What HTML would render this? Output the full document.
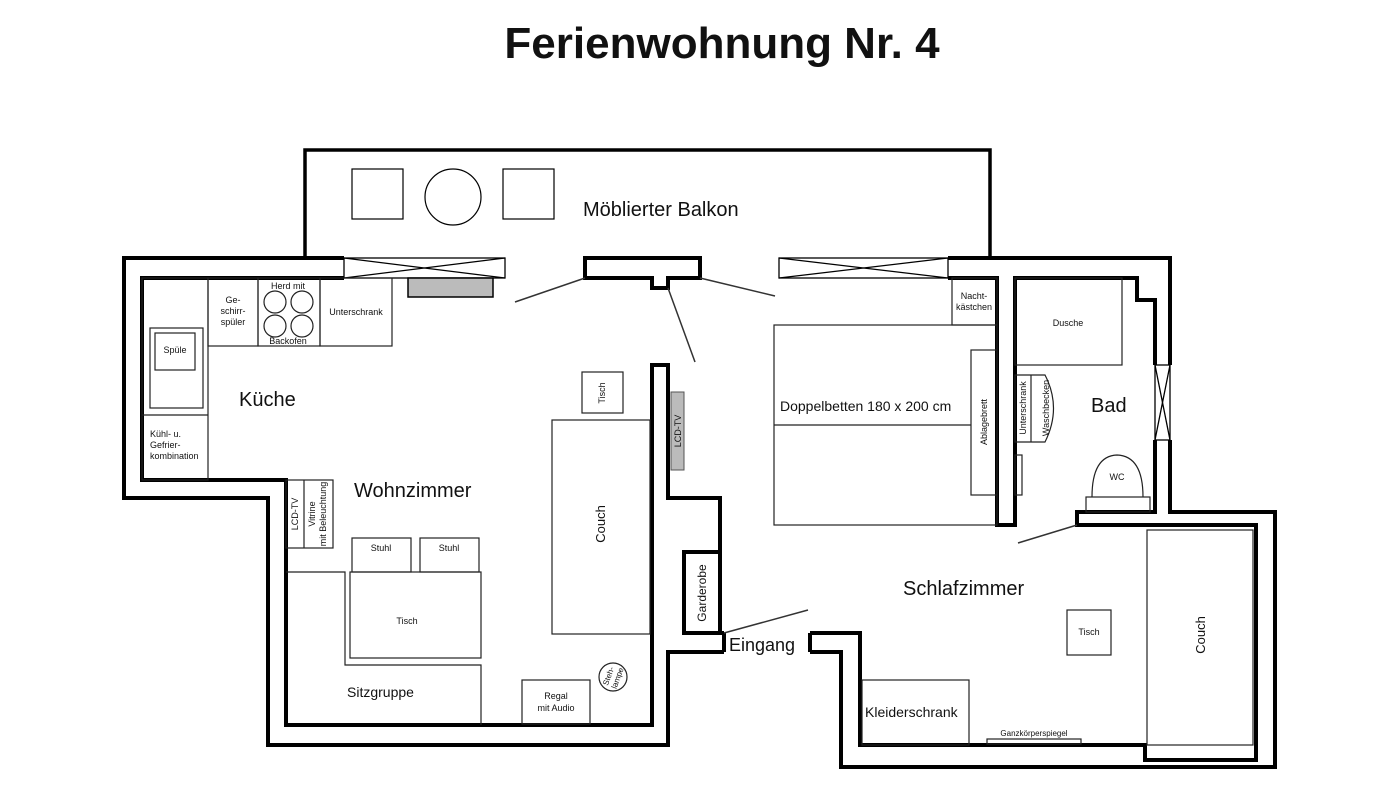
<!DOCTYPE html>
<html><head><meta charset="utf-8"><style>
html,body{margin:0;padding:0;background:#fff;}
svg{display:block;}
text{font-family:"Liberation Sans",sans-serif;fill:#111;}
</style></head><body>
<svg width="1400" height="788" viewBox="0 0 1400 788" xmlns="http://www.w3.org/2000/svg">
<text x="722" y="58" font-size="44" font-weight="bold" text-anchor="middle">Ferienwohnung Nr. 4</text>

<polyline points="305,258 305,150 990,150 990,258" fill="none" stroke="#000" stroke-width="3.5"/>
<rect x="352" y="169" width="51" height="50" fill="none" stroke="#000" stroke-width="1.2"/>
<circle cx="453" cy="197" r="28" fill="none" stroke="#000" stroke-width="1.2"/>
<rect x="503" y="169" width="51" height="50" fill="none" stroke="#000" stroke-width="1.2"/>
<text x="583" y="216" font-size="20">Möblierter Balkon</text>

<g fill="none" stroke="#000" stroke-width="4" stroke-linejoin="miter">
<polyline points="344,258 124,258 124,498 268,498 268,745 668,745 668,652 724,652"/>
<polyline points="344,278 142,278 142,480 286,480 286,725 652,725 652,365 668,365 668,498 720,498 720,552"/>
<rect x="684" y="552" width="36" height="81"/>
<line x1="720" y1="633" x2="724" y2="633"/>
<line x1="724" y1="633" x2="724" y2="652"/>
<polygon points="585,258 700,258 700,278 668,278 668,288 652,288 652,278 585,278"/>
<polyline points="810,633 860,633 860,745 1145,745 1145,760 1256,760 1256,525 1155,525"/>
<polyline points="810,652 841,652 841,767 1275,767 1275,512 1170,512 1170,440"/>
<line x1="810" y1="633" x2="810" y2="652"/>
<polyline points="948,258 1170,258 1170,365"/>
<polyline points="948,278 997,278 997,525 1015,525 1015,278 1137,278 1137,300 1155,300 1155,365"/>
<polyline points="1155,440 1155,512 1077,512 1077,525 1155,525"/>
</g>
<g fill="none" stroke="#000" stroke-width="1.3">
<rect x="344" y="258" width="161" height="20"/><line x1="344" y1="258" x2="505" y2="278"/><line x1="344" y1="278" x2="505" y2="258"/>
<rect x="779" y="258" width="169" height="20"/><line x1="779" y1="258" x2="948" y2="278"/><line x1="779" y1="278" x2="948" y2="258"/>
<rect x="1155" y="365" width="15" height="75"/><line x1="1155" y1="365" x2="1170" y2="440"/><line x1="1170" y1="365" x2="1155" y2="440"/>
</g>
<g stroke="#333" stroke-width="1.5">
<line x1="515" y1="302" x2="585" y2="278"/>
<line x1="700" y1="278" x2="775" y2="296"/>
<line x1="668" y1="288" x2="695" y2="362"/>
<line x1="1018" y1="543" x2="1077" y2="525"/>
<line x1="724" y1="633" x2="808" y2="610"/>
</g>
<rect x="408" y="278" width="85" height="19" fill="#bbb" stroke="#000" stroke-width="1.5"/>

<g fill="none" stroke="#222" stroke-width="1.2">
<rect x="142" y="278" width="66" height="202"/>
<line x1="142" y1="415" x2="208" y2="415"/>
<rect x="150" y="328" width="53" height="80"/>
<rect x="155" y="333" width="40" height="37"/>
<rect x="208" y="278" width="50" height="68"/>
<rect x="258" y="278" width="62" height="68"/>
<rect x="320" y="278" width="72" height="68"/>
<circle cx="275" cy="302" r="11"/><circle cx="302" cy="302" r="11"/>
<circle cx="275" cy="326" r="11"/><circle cx="302" cy="326" r="11"/>
<rect x="286" y="480" width="47" height="68"/><line x1="304" y1="480" x2="304" y2="548"/>
<rect x="352" y="538" width="59" height="34"/>
<rect x="420" y="538" width="59" height="34"/>
<rect x="350" y="572" width="131" height="86"/>
<polyline points="286,572 345,572 345,665 481,665 481,725"/>
<rect x="582" y="372" width="41" height="41"/>
<rect x="552" y="420" width="98" height="214"/>
<rect x="522" y="680" width="68" height="44"/>
<circle cx="613" cy="677" r="14"/>
<rect x="774" y="325" width="223" height="200"/>
<line x1="774" y1="425" x2="971" y2="425"/>
<rect x="952" y="278" width="45" height="47"/>
<rect x="971" y="350" width="26" height="145"/>
<rect x="1015" y="455" width="7" height="40"/>
<rect x="1015" y="278" width="107" height="87"/>
<path d="M1015,375 L1045,375 Q1062,408 1045,442 L1015,442 Z"/>
<line x1="1031" y1="375" x2="1031" y2="442"/>
<path d="M1092,497 Q1092,456 1117,455 Q1143,456 1143,497"/>
<rect x="1086" y="497" width="64" height="15"/>
<rect x="1067" y="610" width="44" height="45"/>
<rect x="1147" y="530" width="106" height="215"/>
<rect x="862" y="680" width="107" height="65"/>
<rect x="987" y="739" width="94" height="5"/>
</g>
<rect x="671" y="392" width="13" height="78" fill="#bbb" stroke="#555" stroke-width="1"/>

<g font-size="9" text-anchor="middle">
<text x="288" y="289">Herd mit</text>
<text x="288" y="344">Backofen</text>
<text x="233" y="303">Ge-</text><text x="233" y="314">schirr-</text><text x="233" y="325">spüler</text>
<text x="356" y="315">Unterschrank</text>
<text x="175" y="353">Spüle</text>
<text x="150" y="437" text-anchor="start">Kühl- u.</text>
<text x="150" y="448" text-anchor="start">Gefrier-</text>
<text x="150" y="459" text-anchor="start">kombination</text>
<text x="381" y="551">Stuhl</text><text x="449" y="551">Stuhl</text>
<text x="407" y="624">Tisch</text>
<text x="556" y="699">Regal</text><text x="556" y="711">mit Audio</text>
<text x="974" y="299">Nacht-</text><text x="974" y="310">kästchen</text>
<text x="1068" y="326">Dusche</text>
<text x="1117" y="480">WC</text>
<text x="1089" y="635">Tisch</text>
<text x="1034" y="736" font-size="8">Ganzkörperspiegel</text>
<text transform="translate(605,393) rotate(-90)">Tisch</text>
<text transform="translate(681,431) rotate(-90)">LCD-TV</text>
<text transform="translate(298,514) rotate(-90)">LCD-TV</text>
<text transform="translate(315,514) rotate(-90)">Vitrine</text>
<text transform="translate(326,514) rotate(-90)">mit Beleuchtung</text>
<text transform="translate(987,422) rotate(-90)">Ablagebrett</text>
<text transform="translate(1026,408) rotate(-90)">Unterschrank</text>
<text transform="translate(1049,408) rotate(-90)">Waschbecken</text>
<text transform="translate(611,677) rotate(-70)" font-size="8">Steh-</text>
<text transform="translate(620,679) rotate(-70)" font-size="8">lampe</text>
</g>
<g font-size="13" text-anchor="middle">
<text transform="translate(605,524) rotate(-90)">Couch</text>
<text transform="translate(1205,635) rotate(-90)">Couch</text>
<text transform="translate(706,593) rotate(-90)" font-size="12">Garderobe</text>
</g>
<text x="239" y="406" font-size="20">Küche</text>
<text x="354" y="497" font-size="20">Wohnzimmer</text>
<text x="347" y="697" font-size="14">Sitzgruppe</text>
<text x="780" y="411" font-size="14">Doppelbetten 180 x 200 cm</text>
<text x="1091" y="412" font-size="20">Bad</text>
<text x="903" y="595" font-size="20">Schlafzimmer</text>
<text x="729" y="651" font-size="18">Eingang</text>
<text x="865" y="717" font-size="14">Kleiderschrank</text>
</svg>
</body></html>
